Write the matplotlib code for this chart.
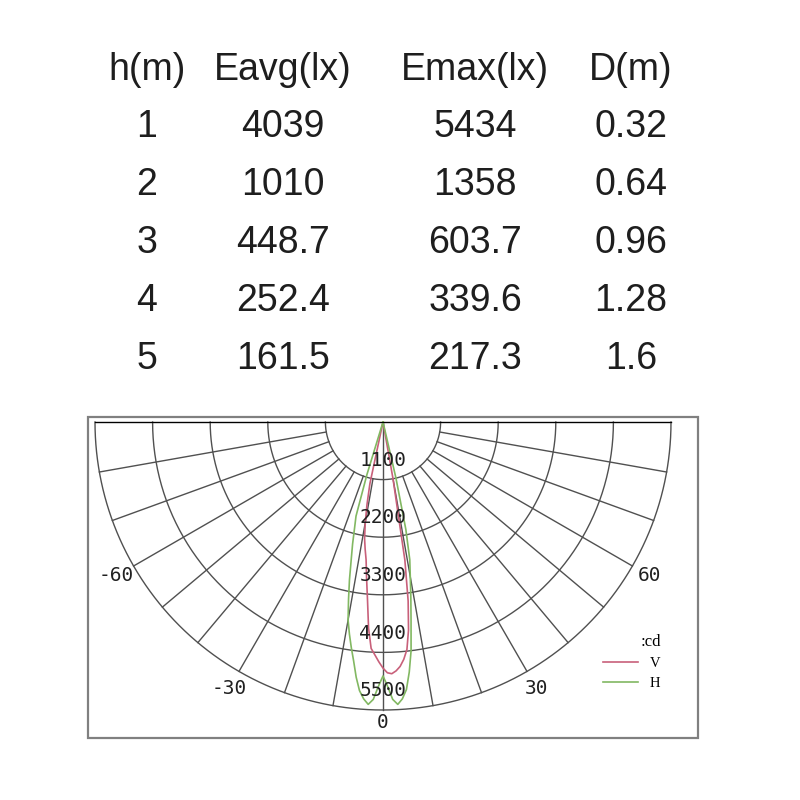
import numpy as np
import matplotlib
matplotlib.use("Agg")
import matplotlib.pyplot as plt
from matplotlib.patches import Rectangle

# ---------------- data ----------------
headers = ["h(m)", "Eavg(lx)", "Emax(lx)", "D(m)"]
heights = ["1", "2", "3", "4", "5"]
eavg = ["4039", "1010", "448.7", "252.4", "161.5"]
emax = ["5434", "1358", "603.7", "339.6", "217.3"]
diam = ["0.32", "0.64", "0.96", "1.28", "1.6"]

ring_values = [1100, 2200, 3300, 4400, 5500]
angle_labels = [-60, -30, 0, 30, 60]

V_angles = [-90, -13, -12, -11, -10, -9, -8, -7, -6, -5, -4, -3, -2, -1, 0,
            1, 2, 3, 4, 5, 6, 7, 8, 9, 10, 11, 90]
V_cd = [0, 0, 1200, 1600, 1950, 2250, 2450, 2650, 3000, 3400, 3950, 4330, 4450, 4580, 4700,
        4790, 4810, 4760, 4680, 4550, 4370, 4000, 3450, 2670, 1100, 0, 0]

H_angles = [-90, -18, -17, -16, -15, -14, -13, -12, -11, -10, -9, -8, -7, -6, -5, -4, -3, -2, -1, 0,
            1, 2, 3, 4, 5, 6, 7, 8, 9, 10, 11, 12, 13, 14, 90]
H_cd = [0, 0, 1050, 1870, 2100, 2400, 2700, 3080, 3450, 3840, 4100, 4350, 4600, 4900, 5150, 5300, 5400, 5300, 5050, 4850,
        5050, 5300, 5400, 5300, 5130, 4800, 4400, 3850, 3400, 3000, 2680, 2100, 1100, 0, 0]

# ---------------- figure ----------------
W = H = 800
fig = plt.figure(figsize=(8, 8), dpi=100)
fig.patch.set_facecolor("white")


def fx(x):
    return x / W


def fy(y):
    return 1 - y / H


# table
cols_x = [147, 283, 475, 631]
header_base = 80
row_base = [137, 195, 253, 311, 369]
tfont = dict(fontsize=27, family="Liberation Sans", color="#1e1e1e", ha="center", va="baseline")
for cx, h in zip(cols_x, headers):
    fig.text(fx(cx), fy(header_base), h, **tfont)
for i, rb in enumerate(row_base):
    for cx, col in zip(cols_x, [heights, eavg, emax, diam]):
        fig.text(fx(cx), fy(rb), col[i], **tfont)

# frame around polar diagram
fig.patches.append(Rectangle((fx(88), fy(738)), (698 - 88) / W, (738 - 417) / H,
                             transform=fig.transFigure, fill=False,
                             edgecolor="#808080", linewidth=1.6))

# polar diagram (the half-disc wedge is padded to a square box by matplotlib)
cx0, cy0, R = 383, 422, 288
ax = fig.add_axes([fx(cx0 - R), fy(cy0 + 1.5 * R), 2 * R / W, 2 * R / H], projection="polar")
ax.set_theta_zero_location("S")
ax.set_thetamin(-90)
ax.set_thetamax(90)
ax.set_ylim(0, 5500)
ax.grid(False)
ax.set_xticks([])
ax.set_yticks([])
for s in ax.spines.values():
    s.set_visible(False)
ax.patch.set_visible(False)

gc = "#505050"
th = np.radians(np.linspace(-90, 90, 361))
for r in ring_values:
    ax.plot(th, np.full_like(th, r), color=gc, lw=1.0, clip_on=False, zorder=1)
for a in range(-90, 91, 10):
    r0 = 0 if a in (-90, 0, 90) else ring_values[0]
    ax.plot([np.radians(a)] * 2, [r0, ring_values[-1]], color=gc, lw=1.0, clip_on=False, zorder=1)

lv, = ax.plot(np.radians(V_angles), V_cd, color="#c8607a", lw=1.2, clip_on=False, zorder=2)
lh, = ax.plot(np.radians(H_angles), H_cd, color="#82b862", lw=1.2, clip_on=False, zorder=2)

for v in ring_values:
    ax.text(0, v - 370, str(v), ha="center", va="center", fontsize=14,
            family="DejaVu Sans Mono", color="#202020", zorder=3)
for a in angle_labels:
    rr = 5730 if a == 0 else 5880
    ax.text(np.radians(a), rr, str(a), ha="center", va="center", fontsize=14,
            family="DejaVu Sans Mono", color="#202020", clip_on=False)

leg = ax.legend(handles=[lv, lh], labels=["V", "H"], title=":cd", loc="center",
                bbox_to_anchor=(fx(632), fy(662)), bbox_transform=fig.transFigure,
                frameon=False, prop={"family": "Liberation Serif", "size": 10.5},
                title_fontproperties={"family": "Liberation Serif", "size": 12},
                handlelength=2.4, handletextpad=0.8, labelspacing=0.45, alignment="right")

fig.savefig("out.png", dpi=100)
